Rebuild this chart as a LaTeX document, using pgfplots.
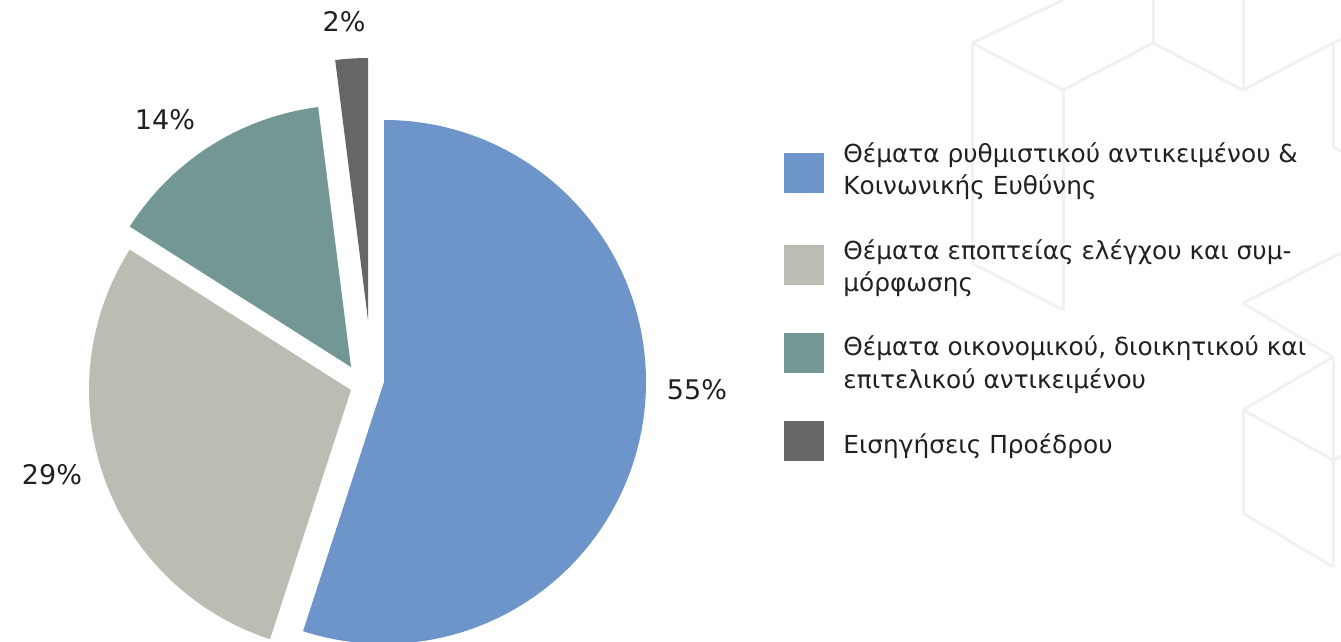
\documentclass[border=0pt]{standalone}
\usepackage{pgfplots}
\usepackage{pgfplotstable}
\pgfplotsset{compat=1.18}
\usepackage{fontspec}
\setmainfont{DejaVu Sans}
\definecolor{sBlue}{RGB}{110,149,201}
\definecolor{sGray}{RGB}{188,189,178}
\definecolor{sTeal}{RGB}{114,151,148}
\definecolor{sDark}{RGB}{101,103,102}
\definecolor{txt}{RGB}{35,31,32}
\definecolor{bgl}{RGB}{241,241,241}

% value = share in %, (cx,cy) = slice vertex in pixel units, (lx,ly) = label centre
\pgfplotstableread{
value cx cy col lx ly
55 384 382 sBlue 697 390
29 351 390 sGray 52 475
14 351 367 sTeal 165 120
2 368 320 sDark 344 22
}\piedata

\newcommand\bgseg[4]{\draw[bgl, line width=1.5pt] (axis cs:#1,#2) -- (axis cs:#3,#4);}
\newcommand\legline[3]{\node[anchor=base west, inner sep=0pt, text=txt, font=\fontsize{12.4pt}{14pt}\selectfont] at (axis cs:#1,#2) {#3};}

\begin{document}
\begin{tikzpicture}
\begin{axis}[
  width=670.5pt, height=321pt, scale only axis,
  xmin=0, xmax=1341, ymin=0, ymax=642, y dir=reverse,
  hide axis, clip=true,
]
% faint background cube lattice
\bgseg{972}{43}{1063}{0}
\bgseg{972}{43}{1063}{90}
\bgseg{972}{43}{972}{263}
\bgseg{972}{263}{1063}{310}
\bgseg{1063}{90}{1063}{310}
\bgseg{1063}{90}{1153}{43}
\bgseg{1153}{43}{1153}{0}
\bgseg{1153}{43}{1243}{90}
\bgseg{1243}{0}{1243}{90}
\bgseg{1243}{90}{1333}{43}
\bgseg{1333}{43}{1333}{147}
\bgseg{1333}{43}{1341}{39}
\bgseg{1333}{147}{1341}{151}
\bgseg{1243}{303}{1341}{253}
\bgseg{1243}{303}{1333}{357}
\bgseg{1243}{410}{1333}{357}
\bgseg{1243}{410}{1333}{460}
\bgseg{1243}{410}{1243}{513}
\bgseg{1243}{513}{1333}{567}
\bgseg{1333}{357}{1333}{567}
\bgseg{1333}{460}{1341}{456}

% pie slices from the table
\gdef\pcum{0}
\pgfplotsinvokeforeach{0,1,2,3}{
  \pgfplotstablegetelem{#1}{value}\of\piedata \let\pval\pgfplotsretval
  \pgfplotstablegetelem{#1}{cx}\of\piedata \let\pcx\pgfplotsretval
  \pgfplotstablegetelem{#1}{cy}\of\piedata \let\pcy\pgfplotsretval
  \pgfplotstablegetelem{#1}{col}\of\piedata \let\pcol\pgfplotsretval
  \pgfmathsetmacro\pstart{90-3.6*\pcum}
  \pgfmathsetmacro\pend{90-3.6*(\pcum+\pval)}
  \pgfmathsetmacro\pnew{\pcum+\pval}\global\let\pcum\pnew
  \edef\ptmp{\noexpand\fill[\pcol] (axis cs:\pcx,\pcy) -- ++(\pstart:131pt) arc[start angle=\pstart, end angle=\pend, radius=131pt] -- cycle;}
  \ptmp
}

% percentage labels
\addplot[draw=none, mark=none, point meta=explicit symbolic,
  nodes near coords={\pgfplotspointmeta\%},
  nodes near coords style={anchor=center, text=txt, font=\fontsize{13.5pt}{15pt}\selectfont}]
  table[x=lx, y=ly, meta=value] {\piedata};

% legend
\fill[sBlue] (axis cs:784,153) rectangle (axis cs:824,193);
\fill[sGray] (axis cs:784,245) rectangle (axis cs:824,285);
\fill[sTeal] (axis cs:784,333) rectangle (axis cs:824,373);
\fill[sDark] (axis cs:784,421) rectangle (axis cs:824,461);
\legline{843}{163}{Θέματα ρυθμιστικού αντικειμένου \&}
\legline{843}{195}{Κοινωνικής Ευθύνης}
\legline{843}{260}{Θέματα εποπτείας ελέγχου και συμ-}
\legline{843}{292}{μόρφωσης}
\legline{843}{356}{Θέματα οικονομικού, διοικητικού και}
\legline{843}{388}{επιτελικού αντικειμένου}
\legline{843}{453}{Εισηγήσεις Προέδρου}
\end{axis}
\pgfresetboundingbox
\useasboundingbox (current axis.south west) rectangle (current axis.north east);
\end{tikzpicture}
\end{document}
